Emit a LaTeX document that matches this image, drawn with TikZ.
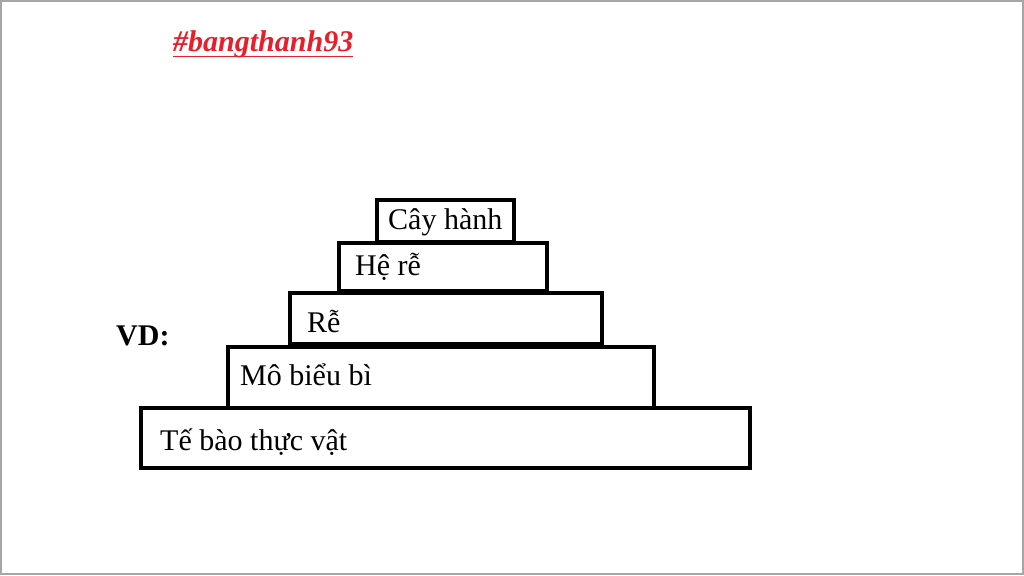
\documentclass[tikz,border=0pt]{standalone}
\usepackage{fontspec}
\setmainfont{Liberation Serif}
\usepackage{tikz}
\usetikzlibrary{positioning}
\definecolor{tagred}{RGB}{232,30,40}
\tikzstyle{TIER}   = [draw=black,       % color for LINES
                     line width=4pt,    % control line width.
                     rectangle,         % Box shape
                     anchor=north west,
                     inner sep=0pt]
\tikzstyle{LABEL}  = [anchor=base west, inner sep=0pt, font=\fontsize{30}{36}\selectfont]
\tikzstyle{FRAME}  = [draw=black!35, line width=1.5pt]

\begin{document}
\begin{tikzpicture}[x=1pt, y=-1pt]
		
		% Page and frame
		\fill[white] (0,0) rectangle (1024,575);
		\useasboundingbox (0,0) rectangle (1024,575);
		\draw[FRAME] (1,1) rectangle (1023,574);
		
		% Tag
		\node(tag)[LABEL, text=tagred, font=\fontsize{30}{36}\selectfont\bfseries\itshape] at (173,52)
		{
			\#bangthanh93
		};
		\draw[tagred, line width=1.5pt] ([yshift=-4.5pt]tag.base west) -- ([yshift=-4.5pt]tag.base east);
		
		% VD
		\node(vd)[LABEL, font=\fontsize{30}{36}\selectfont\bfseries] at (116,345)
		{
			VD:
		};
		
		% The tiers, bottom up
		\node(te)[TIER, minimum width = 609pt, minimum height = 60pt] at (139,406) {};
		\node(mo)[TIER, minimum width = 426pt, minimum height = 61pt] at (226,345) {};
		\node(re)[TIER, minimum width = 312pt, minimum height = 51pt] at (288,291) {};
		\node(he)[TIER, minimum width = 208pt, minimum height = 48pt] at (337,241) {};
		\node(cay)[TIER, minimum width = 137pt, minimum height = 42pt] at (375,198) {};
		
		% Labels of the tiers
		\node(telbl)[LABEL] at (160,450) {Tế bào thực vật};
		\node(molbl)[LABEL] at (240,385) {Mô biểu bì};
		\node(relbl)[LABEL] at (307,332) {Rễ};
		\node(helbl)[LABEL] at (355,275) {Hệ rễ};
		\node(caylbl)[LABEL] at (388,229) {Cây hành};
		
\end{tikzpicture}
\end{document}
